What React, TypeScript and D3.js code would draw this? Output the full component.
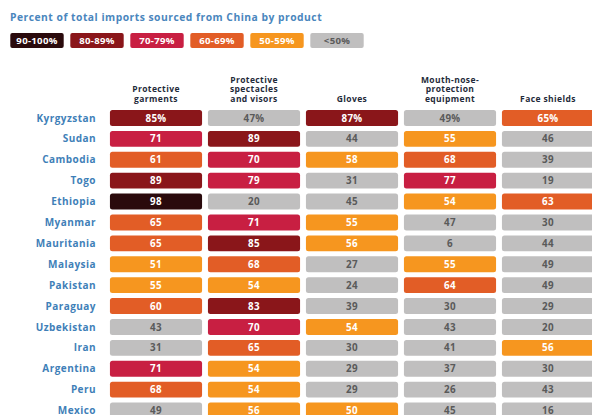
import * as d3 from 'd3'

const title = 'Percent of total imports sourced from China by product'

const legendLabels = ['90-100%', '80-89%', '70-79%', '60-69%', '50-59%', '<50%']
const bucketColors = ['#2a0a0c', '#8a161a', '#c81f42', '#e25d26', '#f6961f', '#c0bfbf']

const products = ['Protective garments', 'Protective spectacles and visors', 'Gloves', 'Mouth-nose-protection equipment', 'Face shields']
const productLines = [
  ['Protective', 'garments'],
  ['Protective', 'spectacles', 'and visors'],
  ['Gloves'],
  ['Mouth-nose-', 'protection', 'equipment'],
  ['Face shields'],
]

const countries = [
  'Kyrgyzstan', 'Sudan', 'Cambodia', 'Togo', 'Ethiopia', 'Myanmar', 'Mauritania', 'Malaysia',
  'Pakistan', 'Paraguay', 'Uzbekistan', 'Iran', 'Argentina', 'Peru', 'Mexico',
]

const garments = [85, 71, 61, 89, 98, 65, 65, 51, 55, 60, 43, 31, 71, 68, 49]
const spectacles = [47, 89, 70, 79, 20, 71, 85, 68, 54, 83, 70, 65, 54, 54, 56]
const gloves = [87, 44, 58, 31, 45, 55, 56, 27, 24, 39, 54, 30, 29, 29, 50]
const mouthNose = [49, 55, 68, 77, 54, 47, 6, 55, 64, 30, 43, 41, 37, 26, 45]
const faceShields = [65, 46, 39, 19, 63, 30, 44, 49, 49, 29, 20, 56, 30, 43, 16]

const series = [garments, spectacles, gloves, mouthNose, faceShields]

const bucket = d3.scaleThreshold<number, string>()
  .domain([50, 60, 70, 80, 90])
  .range(bucketColors.slice().reverse())

const font = '"Open Sans", "DejaVu Sans", sans-serif'

const App = () => {
  const width = 592
  const height = 415

  const x = d3.scaleBand<string>().domain(products).range([107, 597]).paddingInner(0.06).paddingOuter(0.03)
  const y = d3.scaleBand<string>().domain(countries).range([107.5, 421]).paddingInner(0.24).paddingOuter(0.12)
  const lx = d3.scaleBand<string>().domain(legendLabels).range([7, 367]).paddingInner(0.11).paddingOuter(0.055)

  return (
    <svg width={width} height={height} style={{ position: 'absolute', left: 0, top: 0, background: '#fff' }} fontFamily={font}>
      <text x={10} y={20.5} fontSize={10.3} fontWeight={700} letterSpacing={0.5} fill="#4a86bd">{title}</text>

      {legendLabels.map((l, i) => (
        <g key={l}>
          <rect x={lx(l)} y={33} width={lx.bandwidth()} height={15} rx={2} fill={bucketColors[i]} />
          <text
            x={(lx(l) ?? 0) + lx.bandwidth() / 2}
            y={44.2}
            textAnchor="middle"
            fontSize={9.6}
            fontWeight={700}
            letterSpacing={0.3}
            fill={i === 5 ? '#5a5a5a' : '#fff'}
          >{l}</text>
        </g>
      ))}

      {products.map((p, i) => {
        const lines = productLines[i]
        return (
          <text key={p} x={(x(p) ?? 0) + x.bandwidth() / 2} textAnchor="middle" fontSize={8.5} fontWeight={700} letterSpacing={0.4} fill="#1f2b3a">
            {lines.map((ln, j) => (
              <tspan key={j} x={(x(p) ?? 0) + x.bandwidth() / 2} y={101.5 - (lines.length - 1 - j) * 9.3}>{ln}</tspan>
            ))}
          </text>
        )
      })}

      {countries.map((c, r) => (
        <g key={c}>
          <text x={96} y={(y(c) ?? 0) + y.bandwidth() / 2 + 3.6} textAnchor="end" fontSize={10} fontWeight={700} letterSpacing={0.45} fill="#3f7fb8">{c}</text>
          {series.map((s, k) => {
            const v = s[r]
            const p = products[k]
            const cx = (x(p) ?? 0) + x.bandwidth() / 2
            return (
              <g key={p}>
                <rect x={x(p)} y={y(c)} width={x.bandwidth()} height={y.bandwidth()} rx={2.5} fill={bucket(v)} />
                <text
                  x={cx}
                  y={(y(c) ?? 0) + y.bandwidth() / 2 + 3.6}
                  textAnchor="middle"
                  fontSize={9.8}
                  fontWeight={700}
                  letterSpacing={0.3}
                  fill={v < 50 ? '#5a5a5a' : '#fff'}
                >{r === 0 ? `${v}%` : v}</text>
              </g>
            )
          })}
        </g>
      ))}
    </svg>
  )
}

export default App
